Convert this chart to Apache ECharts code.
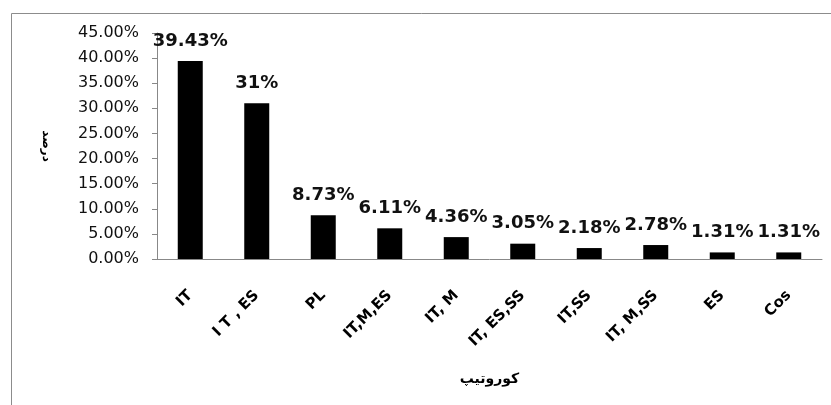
<!DOCTYPE html>
<html>
<head>
<meta charset="utf-8">
<script src="https://cdn.jsdelivr.net/npm/echarts@6/dist/echarts.min.js"></script>
<style>
  html, body { margin: 0; padding: 0; background: #fff; }
  #chart { width: 831px; height: 405px; }
</style>
</head>
<body>
<div id="chart"></div>
<script>
const categories = ['IT', 'I T , ES', 'PL', 'IT,M,ES', 'IT, M', 'IT, ES,SS', 'IT,SS', 'IT, M,SS', 'ES', 'Cos']
const percents = [39.43, 31, 8.73, 6.11, 4.36, 3.05, 2.18, 2.78, 1.31, 1.31]
const yTicks = [0, 5, 10, 15, 20, 25, 30, 35, 40, 45]

const chart = echarts.init(document.getElementById('chart'))

const option = {
  animation: false,
  backgroundColor: '#fff',
  graphic: [{
    type: 'rect',
    shape: { x: 11.5, y: 13.5, width: 830, height: 400 },
    style: { fill: 'none', stroke: '#8c8c8c', lineWidth: 1 },
    silent: true
  }],
  grid: { left: 157, right: 9, top: 33, bottom: 146 },
  xAxis: {
    type: 'category',
    data: categories,
    name: 'کوروتیپ',
    nameLocation: 'middle',
    nameGap: 113,
    nameTextStyle: { fontFamily: 'DejaVu Sans', fontSize: 14, fontWeight: 'bold', color: '#000' },
    axisLine: { lineStyle: { color: '#888', width: 1 } },
    axisTick: { show: false },
    axisLabel: {
      rotate: 45,
      interval: 0,
      margin: 34,
      fontFamily: 'DejaVu Sans',
      fontWeight: 'bold',
      fontSize: 15,
      color: '#000'
    }
  },
  yAxis: {
    type: 'value',
    min: yTicks[0],
    max: yTicks[yTicks.length - 1],
    interval: 5,
    name: 'درصد',
    nameLocation: 'middle',
    nameGap: 105,
    nameRotate: -90,
    nameTextStyle: { fontFamily: 'DejaVu Sans', fontSize: 12, fontWeight: 'bold', color: '#000' },
    axisLine: { show: true, lineStyle: { color: '#888', width: 1 } },
    axisTick: { show: true, inside: false, length: 5, lineStyle: { color: '#888' } },
    splitLine: { show: false },
    axisLabel: {
      margin: 18,
      fontFamily: 'DejaVu Sans',
      fontSize: 16,
      color: '#111',
      formatter: v => v.toFixed(2) + '%'
    }
  },
  series: [{
    type: 'bar',
    data: percents,
    barWidth: 25,
    itemStyle: { color: '#000' },
    label: {
      show: true,
      position: 'top',
      distance: 11,
      fontFamily: 'DejaVu Sans',
      fontWeight: 'bold',
      fontSize: 18,
      color: '#111',
      formatter: p => p.value + '%'
    }
  }]
}

chart.setOption(option)
</script>
</body>
</html>
